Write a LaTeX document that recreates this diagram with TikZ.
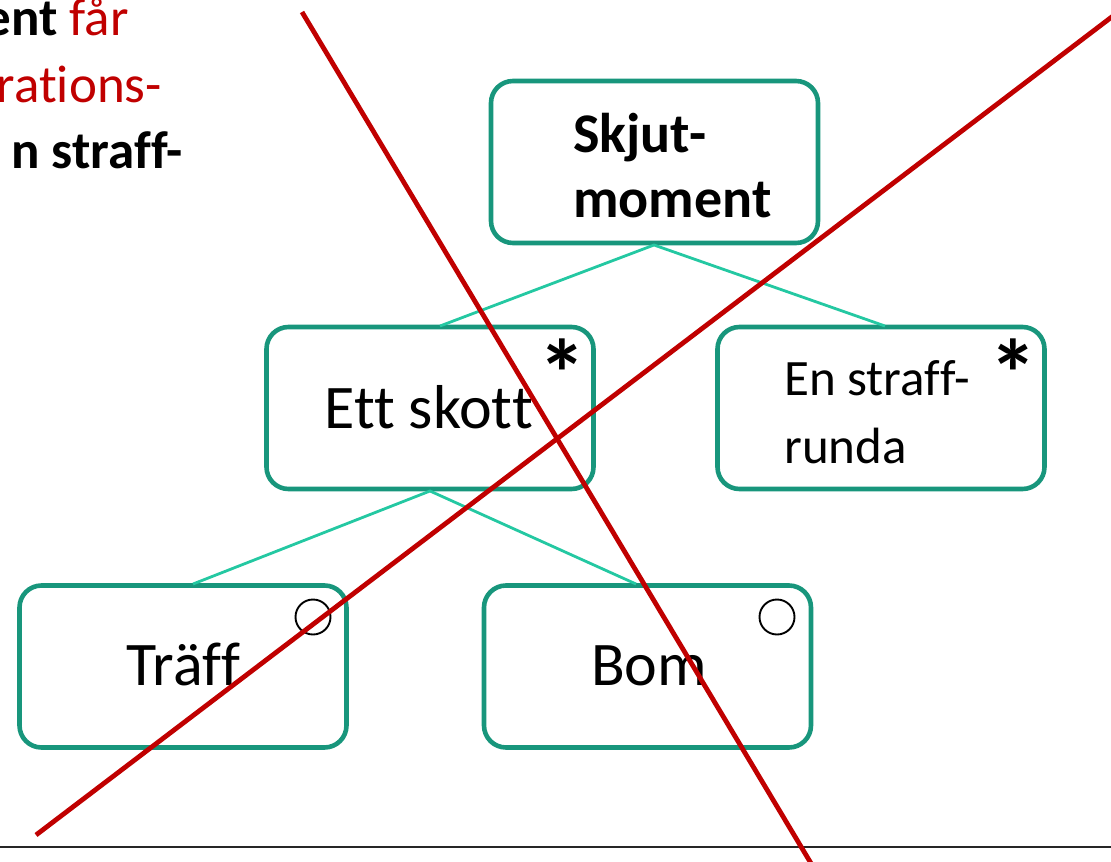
\documentclass[tikz,border=0pt]{standalone}
\usepackage{fontspec}
\setmainfont[Ligatures={NoCommon},RawFeature={-liga;-clig}]{Carlito}
\newcommand\nolf{f\kern0pt f}
\definecolor{boxc}{RGB}{24,150,124}
\definecolor{linkc}{RGB}{36,200,162}
\definecolor{redc}{RGB}{192,0,0}
\tikzset{
  boxnode/.style={draw=boxc, line width=4.6pt, rounded corners=22pt, minimum width=327pt, minimum height=162pt, inner sep=0pt},
  link/.style={draw=linkc, line width=2.8pt},
  crossline/.style={draw=redc, line width=4.8pt},
  txt/.style={inner sep=0pt, anchor=base},
  star/.style={inner sep=0pt, font=\fontsize{96}{96}\selectfont\bfseries},
  ring/.style={draw=black, line width=1.9pt, circle, minimum size=35pt, inner sep=0pt}
}
\begin{document}
\begin{tikzpicture}[x=1pt,y=-1pt]
\useasboundingbox (0,0) rectangle (1111,862);
\clip (0,0) rectangle (1111,862);
% top-left cut text
\node[txt, anchor=base east, font=\fontsize{53}{53}\selectfont] (t1) at (129,35) {\textbf{ent} \textcolor{redc}{får}};
\node[txt, anchor=base east, font=\fontsize{53}{53}\selectfont, text=redc] (t2) at (162,102) {rations-};
\node[txt, anchor=base east, font=\fontsize{53}{53}\selectfont\bfseries] (t3) at (183,168) {n stra\nolf-};
% boxes
\node[boxnode] (S) at (654.5,162) {};
\node[boxnode] (E) at (430,408) {};
\node[boxnode] (R) at (881,408) {};
\node[boxnode] (T) at (183,666.5) {};
\node[boxnode] (B) at (647.5,666.5) {};
% connectors
\coordinate (Sb) at (654,245);
\coordinate (Et) at (440,326);
\coordinate (Rt) at (885,326);
\coordinate (Eb) at (430,491);
\coordinate (Tt) at (193,584);
\coordinate (Bt) at (636,584);
\draw[link] (Et) -- (Sb) -- (Rt);
\draw[link] (Tt) -- (Eb) -- (Bt);
% texts
\node[txt, anchor=base west, font=\fontsize{56}{56}\selectfont\bfseries] (s1) at (573,152) {Skjut-};
\node[txt, anchor=base west, font=\fontsize{56}{56}\selectfont\bfseries] (s2) at (573,217) {moment};
\node[txt, font=\fontsize{62}{62}\selectfont] (e1) at (429,428) {Ett skot\kern0pt t};
\node[txt, anchor=base west, font=\fontsize{51}{51}\selectfont] (r1) at (784,395) {En stra\nolf-};
\node[txt, anchor=base west, font=\fontsize{51}{51}\selectfont] (r2) at (784,463) {runda};
\node[txt, font=\fontsize{62}{62}\selectfont] (tr) at (183.5,685) {Trä\nolf};
\node[txt, font=\fontsize{62}{62}\selectfont] (bo) at (649,685) {Bom};
% stars and circles
\node[star] (st1) at (562,373) {*};
\node[star] (st2) at (1013,373) {*};
\node[ring] (c1) at (313,617) {};
\node[ring] (c2) at (777,617) {};
% bottom rule
\coordinate (L1) at (0,847);
\coordinate (L2) at (1111,847);
\draw[line width=1.4pt, black!85] (L1) -- (L2);
% red cross
\coordinate (A1) at (302,12);
\coordinate (A2) at (812,865);
\coordinate (B1) at (36,835);
\coordinate (B2) at (1113,16);
\draw[crossline] (A1) -- (A2);
\draw[crossline] (B1) -- (B2);
\end{tikzpicture}
\end{document}
